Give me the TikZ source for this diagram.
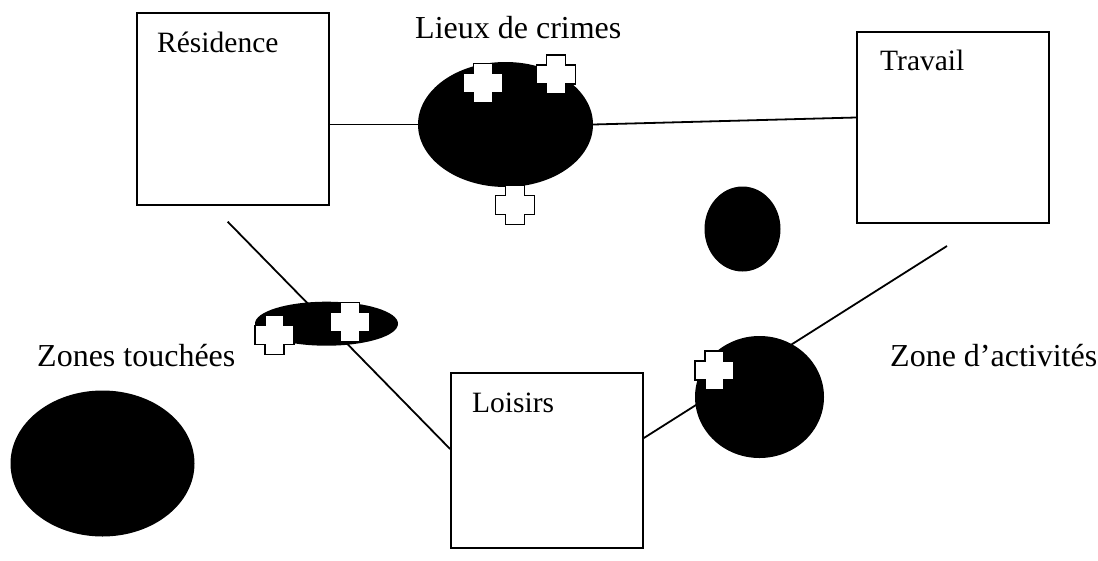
\documentclass[tikz,border=0pt]{standalone}
\usepackage{fontspec}
\setmainfont{Liberation Serif}
\usetikzlibrary{shapes.geometric,calc}
\tikzset{
  place/.style={draw, line width=1.8, rectangle, minimum width=192, minimum height=192, inner sep=0},
  boxlabel/.style={anchor=base west, inner sep=0, font=\fontsize{29.5}{33}\selectfont},
  biglabel/.style={anchor=base west, inner sep=0, font=\fontsize{32}{35}\selectfont},
  blob/.style={ellipse, fill=black, draw=none, inner sep=0},
  link/.style={line width=1.8},
  cross/.pic={
    \draw[fill=white, line width=1.6]
      (-9.5,-19.5) -- (9.5,-19.5) -- (9.5,-9.5) -- (19.5,-9.5) -- (19.5,9.5) -- (9.5,9.5)
      -- (9.5,19.5) -- (-9.5,19.5) -- (-9.5,9.5) -- (-19.5,9.5) -- (-19.5,-9.5) -- (-9.5,-9.5) -- cycle;
  }
}
\begin{document}
\begin{tikzpicture}[x=1pt,y=-1pt]
\useasboundingbox (0,0) rectangle (1098,560);
% boxes
\node[place, minimum width=192, minimum height=192] (res) at (233,109) {};
\node[place, minimum width=192, minimum height=191] (trav) at (953,127.5) {};
\node[place, minimum width=192, minimum height=175] (lois) at (547,460.5) {};
\node[boxlabel] (reslab) at (157,52) {Résidence};
\node[boxlabel] (travlab) at (880,70) {Travail};
\node[boxlabel] (loislab) at (472,412) {Loisirs};
% free ends
\coordinate (d1) at (227.7,221.7);
\coordinate (d2) at (947,246);
% diagonal connectors
\draw[link] (d1) -- ($(lois.west)+(0,-11.5)$);
\draw[link] ($(lois.east)+(0,-22.5)$) -- (d2);
% zones
\node[blob, minimum width=175, minimum height=125] (crime) at (505.5,124.5) {};
\node[blob, minimum width=76, minimum height=85] (small) at (742.5,229) {};
\node[blob, minimum width=143, minimum height=44] (touch) at (326.5,323.7) {};
\node[blob, minimum width=129, minimum height=122] (act) at (759.5,397) {};
\node[blob, minimum width=184, minimum height=146] (big) at (102.5,463.5) {};
% horizontal connectors
\draw[link] (crime.west) -- (crime.west -| res.east);
\draw[link] (crime.east) -- ($(trav.west)+(0,-10)$);
% crosses
\pic at (483,83) {cross};
\pic at (556,74.5) {cross};
\pic at (515,205) {cross};
\pic at (274.7,335) {cross};
\pic at (350,322) {cross};
\pic at (714.7,370.7) {cross};
% labels
\node[biglabel] (lieux) at (415,38) {Lieux de crimes};
\node[biglabel] (zt) at (37,366) {Zones touchées};
\node[biglabel] (za) at (890,366.5) {Zone d’activités};
\end{tikzpicture}
\end{document}
